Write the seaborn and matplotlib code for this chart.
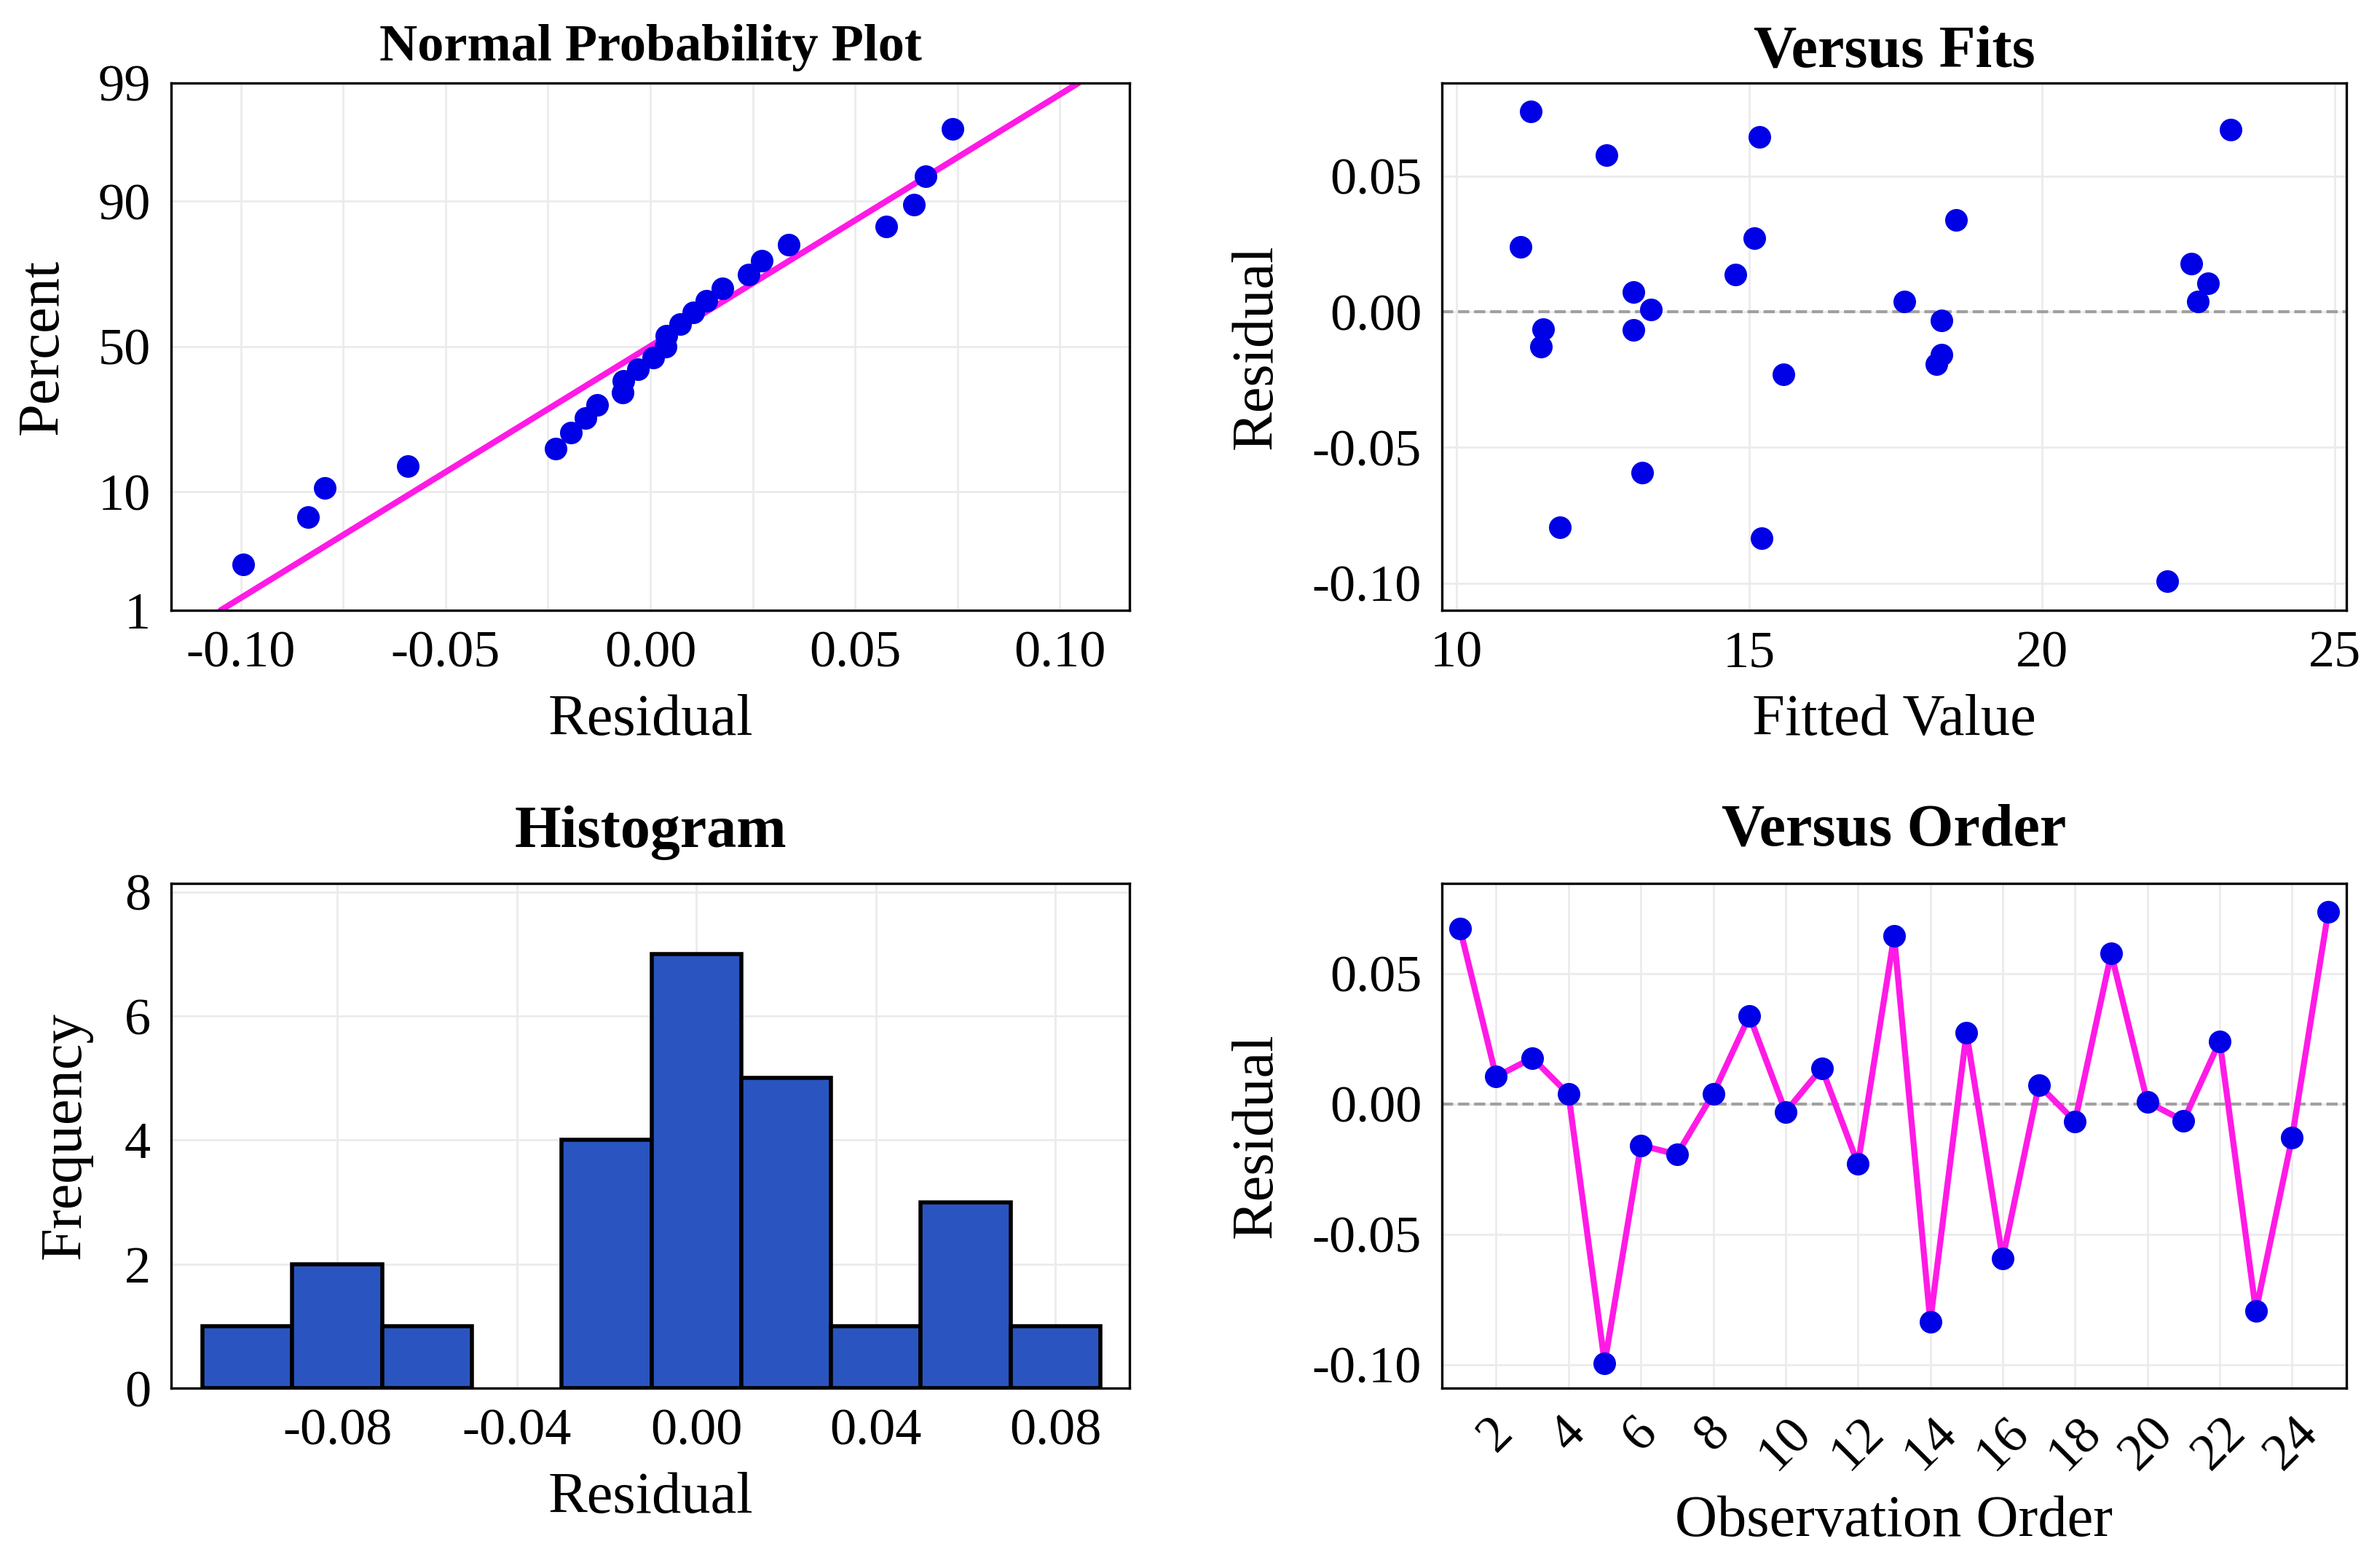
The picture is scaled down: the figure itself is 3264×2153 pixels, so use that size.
import numpy as np
import pandas as pd
import seaborn as sns
import matplotlib.pyplot as plt
from matplotlib.ticker import MultipleLocator
from statistics import NormalDist

# residuals and fitted values in observation order
order = list(range(1, 26))
residuals = [0.0672, 0.0104, 0.0176, 0.0037, -0.0994, -0.0159, -0.0194, 0.0039, 0.0337, -0.0031,
             0.0137, -0.0231, 0.0643, -0.0835, 0.0272, -0.0593, 0.0072, -0.0067, 0.0576, 0.0007,
             -0.0065, 0.0240, -0.0794, -0.0130, 0.0737]
fitted = [23.22, 22.84, 22.55, 22.66, 22.14, 18.28, 18.20, 17.65, 18.53, 18.28,
          14.76, 15.58, 15.18, 15.21, 15.09, 13.17, 13.02, 13.02, 12.56, 13.32,
          11.48, 11.09, 11.76, 11.44, 11.27]

pct_ticks = [1, 10, 50, 90, 99]
bin_edges = [-0.11, -0.09, -0.07, -0.05, -0.03, -0.01, 0.01, 0.03, 0.05, 0.07, 0.09]

df = pd.DataFrame({"order": order, "resid": residuals, "fit": fitted})

sns.set_theme(style="whitegrid")
plt.rcParams["font.family"] = ["Liberation Serif", "DejaVu Serif"]
plt.rcParams["axes.unicode_minus"] = False
plt.rcParams["text.color"] = "black"
plt.rcParams["axes.labelcolor"] = "black"
plt.rcParams["axes.edgecolor"] = "black"
plt.rcParams["axes.linewidth"] = 1.2
plt.rcParams["grid.color"] = "#ebebeb"
plt.rcParams["grid.linewidth"] = 1.0

BLUE = "#0000e6"
MAGENTA = "#ff1ae6"
TICK = 26
LAB = 29
MS = 125

fig = plt.figure(figsize=(16.32, 10.765), dpi=200)
ax1 = fig.add_axes([0.0720, 0.6108, 0.4032, 0.3363])
ax2 = fig.add_axes([0.6066, 0.6108, 0.3805, 0.3363])
ax3 = fig.add_axes([0.0720, 0.1147, 0.4032, 0.3219])
ax4 = fig.add_axes([0.6066, 0.1147, 0.3805, 0.3219])

nd = NormalDist()

# --- Normal probability plot (Filliben plotting positions)
n = len(residuals)
m = [(i - 0.3175) / (n + 0.365) for i in range(1, n + 1)]
m[-1] = 0.5 ** (1 / n)
m[0] = 1 - m[-1]
npp = pd.DataFrame({"resid": sorted(residuals), "z": [nd.inv_cdf(p) for p in m]})
mu, sd = np.mean(residuals), np.std(residuals, ddof=1)
zlo, zhi = nd.inv_cdf(0.01), nd.inv_cdf(0.99)
fit_line = pd.DataFrame({"x": [mu + sd * zlo, mu + sd * zhi], "z": [zlo, zhi]})
sns.lineplot(data=fit_line, x="x", y="z", color=MAGENTA, linewidth=3, ax=ax1, zorder=2)
sns.scatterplot(data=npp, x="resid", y="z", color=BLUE, s=MS, linewidth=0, ax=ax1, zorder=3)
ax1.set_ylim(zlo, zhi)
ax1.set_yticks([nd.inv_cdf(p / 100) for p in pct_ticks])
ax1.set_yticklabels([str(p) for p in pct_ticks])
ax1.set_xlim(-0.117, 0.117)
ax1.set_xticks([-0.10, -0.05, 0.00, 0.05, 0.10])
ax1.set_xticklabels(["-0.10", "-0.05", "0.00", "0.05", "0.10"])
ax1.xaxis.set_minor_locator(MultipleLocator(0.025))
ax1.grid(True, which="minor", axis="x", color="#ebebeb", linewidth=1.0)
ax1.set_title("Normal Probability Plot", fontsize=26, fontweight="bold", pad=11)
ax1.set_xlabel("Residual", fontsize=LAB, labelpad=8)
ax1.set_ylabel("Percent", fontsize=LAB, labelpad=14)

# --- Versus fits
ax2.axhline(0, color="#a0a0a0", linestyle="--", linewidth=1.5, zorder=1)
sns.scatterplot(data=df, x="fit", y="resid", color=BLUE, s=MS, linewidth=0, ax=ax2, zorder=3)
ax2.set_xlim(9.75, 25.2)
ax2.set_ylim(-0.110, 0.0843)
ax2.set_xticks([10, 15, 20, 25])
ax2.set_yticks([-0.10, -0.05, 0.00, 0.05])
ax2.set_yticklabels(["-0.10", "-0.05", "0.00", "0.05"])
ax2.set_title("Versus Fits", fontsize=29.5, fontweight="bold", pad=8)
ax2.set_xlabel("Fitted Value", fontsize=LAB, labelpad=8)
ax2.set_ylabel("Residual", fontsize=LAB, labelpad=14)

# --- Histogram
sns.histplot(x=residuals, bins=bin_edges, color="#2a55c0", edgecolor="black",
             linewidth=2, alpha=1, ax=ax3, zorder=3)
for p in ax3.patches:
    if p.get_height() == 0:
        p.set_visible(False)
ax3.set_xlim(-0.117, 0.0965)
ax3.set_ylim(0, 8.14)
ax3.set_xticks([-0.08, -0.04, 0.00, 0.04, 0.08])
ax3.set_xticklabels(["-0.08", "-0.04", "0.00", "0.04", "0.08"])
ax3.set_yticks([0, 2, 4, 6, 8])
ax3.set_title("Histogram", fontsize=29.5, fontweight="bold", pad=18)
ax3.set_xlabel("Residual", fontsize=LAB, labelpad=8)
ax3.set_ylabel("Frequency", fontsize=LAB, labelpad=16)

# --- Versus order
ax4.axhline(0, color="#a0a0a0", linestyle="--", linewidth=1.5, zorder=1)
sns.lineplot(data=df, x="order", y="resid", color=MAGENTA, linewidth=3, ax=ax4, zorder=2)
sns.scatterplot(data=df, x="order", y="resid", color=BLUE, s=MS, linewidth=0, ax=ax4, zorder=3)
ax4.set_xlim(0.5, 25.5)
ax4.set_ylim(-0.109, 0.0845)
ax4.set_xticks(list(range(2, 25, 2)))
ax4.set_yticks([-0.10, -0.05, 0.00, 0.05])
ax4.set_yticklabels(["-0.10", "-0.05", "0.00", "0.05"])
for lab in ax4.get_xticklabels():
    lab.set_rotation(45)
ax4.set_title("Versus Order", fontsize=29.5, fontweight="bold", pad=19)
ax4.set_xlabel("Observation Order", fontsize=LAB, labelpad=8)
ax4.set_ylabel("Residual", fontsize=LAB, labelpad=14)

for ax in (ax1, ax2, ax3, ax4):
    ax.tick_params(axis="both", which="major", labelsize=TICK, length=4, width=1.2,
                   color="black", labelcolor="black", pad=6, direction="out")
    ax.tick_params(axis="both", which="minor", length=0)
    ax.set_axisbelow(True)
    for sp in ax.spines.values():
        sp.set_color("black")
        sp.set_linewidth(1.2)

fig.savefig("out.png", dpi=200)
